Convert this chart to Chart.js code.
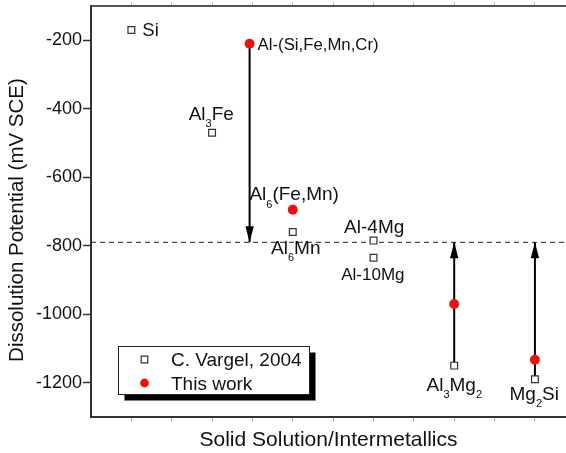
<!DOCTYPE html>
<html>
<head>
<meta charset="utf-8">
<script src="https://cdn.jsdelivr.net/npm/chart.js@4.4.1/dist/chart.umd.min.js"></script>
<style>
  html, body { margin: 0; padding: 0; background: #fff; }
</style>
</head>
<body>
<canvas id="potChart" width="566" height="453"></canvas>
<script>
// C. Vargel, 2004 (open squares)
const vargelX = [1, 3, 5, 7, 7, 9, 11];
const vargelY = [-170, -470, -760, -785, -835, -1150, -1190];
const vargelNames = ["Si", "Al_3Fe", "Al_6Mn", "Al-4Mg", "Al-10Mg", "Al_3Mg_2", "Mg_2Si"];

// This work (red dots)
const workX = [3.93, 5, 9, 11];
const workY = [-210, -695, -970, -1133];
const workNames = ["Al-(Si,Fe,Mn,Cr)", "Al_6(Fe,Mn)", "", ""];

// dashed reference level and arrows towards it
const thresholdY = -790;
const arrowX = [3.93, 9, 11];
const arrowFrom = [-210, -1150, -1190];
const arrowTo = [-790, -790, -790];

const yTicks = [-200, -400, -600, -800, -1000, -1200];
const xTicks = [1, 2, 3, 4, 5, 6, 7, 8, 9, 10, 11];
const xMin = 0, xMax = 11.77, yMin = -1300, yMax = -100;

// label offsets (px from the marker) and font sizes
const vargelLabelPos = [[11, 6], [-23.4, -12.7], [-21.7, 21.6], [-29.4, -7.4], [-32.3, 22.7], [-27.7, 25.7], [-25.4, 21]];
const vargelLabelSize = [18.5, 19, 19, 19, 17, 19, 19];
const workLabelPos = [[8, 6.7], [-43.4, -9.3], null, null];
const workLabelSize = [16.75, 19, 0, 0];

Chart.defaults.font.family = "'Liberation Sans', Arial, sans-serif";
Chart.defaults.color = "#111";

function drawRich(ctx, text, x, y, size) {
    // "_3" -> subscript 3
    const parts = text.split(/_(\d)/);
    let cx = x;
    parts.forEach((p, k) => {
        if (!p) return;
        const sub = k % 2 === 1;
        const fs = sub ? size * 0.58 : size;
        ctx.font = fs + "px 'Liberation Sans', Arial, sans-serif";
        ctx.fillText(p, cx, sub ? y + size * 0.37 : y);
        cx += ctx.measureText(p).width;
    });
}

function noPad(s) {
    s.paddingTop = 0; s.paddingBottom = 0;
    s.paddingLeft = 0; s.paddingRight = 0;
}

const labelPlugin = {
    id: "pointLabels",
    afterDatasetsDraw(chart) {
        const ctx = chart.ctx;
        ctx.save();
        ctx.fillStyle = "#111";
        ctx.textBaseline = "alphabetic";
        ctx.textAlign = "left";
        chart.data.datasets.forEach((ds, i) => {
            if (!ds.names) return;
            const meta = chart.getDatasetMeta(i);
            meta.data.forEach((el, j) => {
                const name = ds.names[j];
                const pos = ds.labelPos[j];
                if (!name || !pos) return;
                drawRich(ctx, name, el.x + pos[0], el.y + pos[1], ds.labelSize[j]);
            });
        });
        ctx.restore();
    }
};

const arrowPlugin = {
    id: "arrowHeads",
    afterDatasetsDraw(chart) {
        const ctx = chart.ctx;
        ctx.save();
        ctx.fillStyle = "#000";
        chart.data.datasets.forEach((ds, i) => {
            if (!ds.arrow) return;
            const pts = chart.getDatasetMeta(i).data;
            const a = pts[0], b = pts[pts.length - 1];
            const dir = Math.sign(b.y - a.y);
            ctx.beginPath();
            ctx.moveTo(b.x, b.y);
            ctx.lineTo(b.x - 4.2, b.y - dir * 16);
            ctx.lineTo(b.x + 4.2, b.y - dir * 16);
            ctx.closePath();
            ctx.fill();
        });
        ctx.restore();
    }
};

const legendPlugin = {
    id: "boxLegend",
    afterDraw(chart) {
        const ctx = chart.ctx;
        const area = chart.chartArea;
        const x = area.left + 27, y = area.bottom - 71, w = 191, h = 48;
        ctx.save();
        ctx.fillStyle = "#000";
        ctx.fillRect(x + 6.5, y + 6.5, w, h);
        ctx.fillStyle = "#fff";
        ctx.fillRect(x, y, w, h);
        ctx.strokeStyle = "#222";
        ctx.lineWidth = 1;
        ctx.strokeRect(x + 0.5, y + 0.5, w, h);
        const items = chart.data.datasets.filter(d => d.legendRank).sort((a, b) => a.legendRank - b.legendRank);
        items.forEach((d, k) => {
            const cy = y + 13.5 + k * 23.5;
            ctx.fillStyle = d.backgroundColor;
            ctx.strokeStyle = d.borderColor;
            ctx.lineWidth = d.borderWidth;
            ctx.beginPath();
            if (d.pointStyle === "rect") {
                ctx.rect(x + 23.2, cy - 3.3, 6.6, 6.6);
                ctx.fill();
                ctx.stroke();
            } else {
                ctx.arc(x + 26.5, cy, 4.4, 0, Math.PI * 2);
                ctx.fill();
            }
            ctx.fillStyle = "#111";
            ctx.font = "19px 'Liberation Sans', Arial, sans-serif";
            ctx.textBaseline = "alphabetic";
            ctx.fillText(d.label, x + 53, cy + 6.6);
        });
        ctx.restore();
    }
};

const datasets = [
    {
        label: "This work",
        legendRank: 2,
        data: workX.map((x, i) => ({ x: x, y: workY[i] })),
        names: workNames,
        labelPos: workLabelPos,
        labelSize: workLabelSize,
        pointStyle: "circle",
        pointRadius: 5,
        backgroundColor: "#ee1111",
        borderColor: "#ee1111",
        borderWidth: 0,
        order: 0
    },
    {
        label: "C. Vargel, 2004",
        legendRank: 1,
        data: vargelX.map((x, i) => ({ x: x, y: vargelY[i] })),
        names: vargelNames,
        labelPos: vargelLabelPos,
        labelSize: vargelLabelSize,
        pointStyle: "rect",
        pointRadius: 4.8,
        backgroundColor: "#fff",
        borderColor: "#333",
        borderWidth: 1.2,
        order: 1
    }
];

arrowX.forEach((x, i) => {
    datasets.push({
        label: "arrow" + i,
        arrow: true,
        data: [{ x: x, y: arrowFrom[i] }, { x: x, y: arrowTo[i] }],
        showLine: true,
        borderColor: "#000",
        borderWidth: 2,
        pointRadius: 0,
        order: 2
    });
});

datasets.push({
    label: "threshold",
    data: [{ x: xMin, y: thresholdY }, { x: xMax, y: thresholdY }],
    showLine: true,
    borderColor: "#222",
    borderWidth: 1,
    borderDash: [5, 4],
    pointRadius: 0,
    order: 3
});

new Chart(document.getElementById("potChart").getContext("2d"), {
    type: "scatter",
    data: { datasets: datasets },
    options: {
        responsive: false,
        animation: false,
        devicePixelRatio: 1,
        layout: { padding: 0, autoPadding: false },
        plugins: { legend: { display: false }, tooltip: { enabled: false } },
        scales: {
            x: {
                type: "linear",
                position: "bottom",
                min: xMin,
                max: xMax,
                afterBuildTicks: s => { s.ticks = xTicks.map(v => ({ value: v })); },
                afterFit: s => { s.height = 36; noPad(s); },
                ticks: { display: false },
                grid: { drawOnChartArea: false, tickLength: 4, tickColor: "#aaa" },
                border: { color: "#333", width: 2 },
                title: {
                    display: true,
                    text: "Solid Solution/Intermetallics",
                    font: { size: 21 },
                    color: "#111",
                    padding: { top: 0, bottom: 0 }
                }
            },
            xTop: {
                type: "linear",
                position: "top",
                min: xMin,
                max: xMax,
                afterBuildTicks: s => { s.ticks = xTicks.map(v => ({ value: v })); },
                afterFit: s => { s.height = 6; noPad(s); },
                ticks: { display: false },
                grid: { drawOnChartArea: false, tickLength: 4, tickColor: "#bbb" },
                border: { color: "#555", width: 2 }
            },
            y: {
                type: "linear",
                min: yMin,
                max: yMax,
                afterBuildTicks: s => { s.ticks = yTicks.map(v => ({ value: v })); },
                afterFit: s => { s.width = 91; noPad(s); },
                ticks: { font: { size: 18 }, color: "#111", padding: 1, callback: v => String(v) },
                grid: { drawOnChartArea: false, tickLength: 8, tickColor: "#333", tickWidth: 1.5 },
                border: { color: "#333", width: 2 },
                title: {
                    display: true,
                    text: "Dissolution Potential (mV SCE)   ",
                    font: { size: 20.5 },
                    color: "#111",
                    padding: { top: 5, bottom: 0 }
                }
            }
        }
    },
    plugins: [arrowPlugin, labelPlugin, legendPlugin]
});
</script>
</body>
</html>
